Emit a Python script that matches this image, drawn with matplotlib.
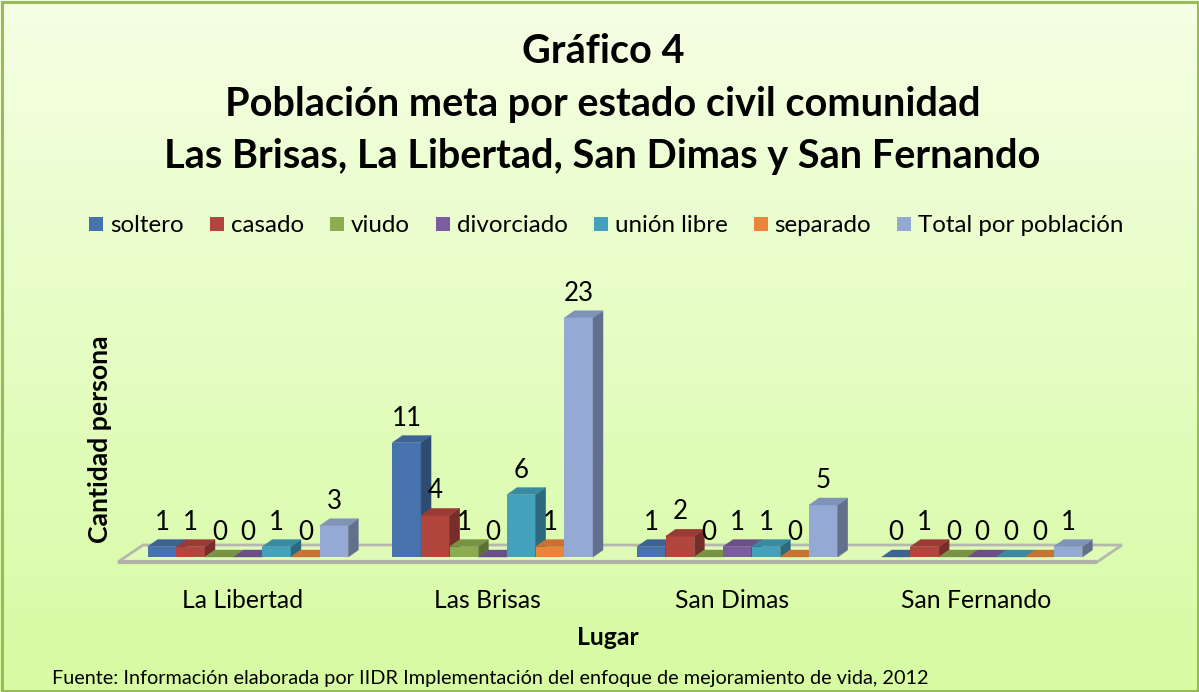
import numpy as np
import matplotlib
matplotlib.use("Agg")
import matplotlib.pyplot as plt
from matplotlib.patches import Polygon, Rectangle

# ---------------- data ----------------
categories = ["La Libertad", "Las Brisas", "San Dimas", "San Fernando"]
series_names = ["soltero", "casado", "viudo", "divorciado", "unión libre",
                "separado", "Total por población"]
soltero = [1, 11, 1, 0]
casado = [1, 4, 2, 1]
viudo = [0, 1, 0, 0]
divorciado = [0, 0, 1, 0]
union_libre = [1, 6, 1, 0]
separado = [0, 1, 0, 0]
total_poblacion = [3, 23, 5, 1]
series_values = [soltero, casado, viudo, divorciado, union_libre, separado,
                 total_poblacion]

title_lines = ["Gráfico 4", "Población meta por estado civil comunidad",
               "Las Brisas, La Libertad, San Dimas y San Fernando"]
ylabel = "Cantidad persona"
xlabel = "Lugar"
footer = ("Fuente: Información elaborada por IIDR Implementación del enfoque "
          "de mejoramiento de vida, 2012")

colors = ["#4673AC", "#B3453F", "#8DAB4F", "#7B5C9E", "#43A1BB", "#E9853A",
          "#94AAD5"]

FONT = "Lato"
plt.rcParams["font.family"] = [FONT, "DejaVu Sans"]

W, H = 1199, 692
fig = plt.figure(figsize=(W / 100, H / 100), dpi=100)
renderer = fig.canvas.get_renderer()

# ---------------- background ----------------
bg = fig.add_axes([0, 0, 1, 1])
bg.set_axis_off()
g = np.linspace(0, 1, 256)[:, None, None]
top_c = np.array([245, 255, 228]) / 255
bot_c = np.array([214, 251, 162]) / 255
img = top_c * (1 - g) + bot_c * g
bg.imshow(img, aspect="auto", extent=[0, 1, 0, 1], origin="upper")
bg.set_xlim(0, 1)
bg.set_ylim(0, 1)
bg.add_patch(Rectangle((1.5 / W, 1.5 / H), 1 - 3 / W, 1 - 3 / H, fill=False,
                       ec="#9bbb59", lw=2.2, transform=bg.transAxes))


def fx(px):
    return px / W


def fy(py):
    return 1 - py / H


# ---------------- main axes ----------------
C0, SX = 248.0, 244.7      # pixel of first category centre, px per category
BASE, SY = 557.0, 10.4     # pixel row of value 0, px per unit
ax = fig.add_axes([0, 0, 1, 1])
ax.patch.set_alpha(0)
ax.set_axis_off()
ax.set_xlim((0 - C0) / SX, (W - C0) / SX)
ax.set_ylim((BASE - H) / SY, BASE / SY)

DXp, DYp = 10.0, 7.0
ddx, ddy = DXp / SX, DYp / SY
bw = 28.66 / SX
nser = len(series_names)
offsets = (np.arange(nser) - (nser - 1) / 2) * bw
xc = np.arange(len(categories))


def shade(c, f):
    r, g_, b = matplotlib.colors.to_rgb(c)
    return (r * f, g_ * f, b * f)


# floor
xl = (130.5 - C0) / SX
xr = (1109.5 - C0) / SX
ym = 3.5 / SY
fdx, fdy = 12.5 / SX, 8.5 / SY
floor = [(xl - fdx, ym - fdy), (xr - fdx, ym - fdy), (xr + fdx, ym + fdy),
         (xl + fdx, ym + fdy)]
ax.add_patch(Polygon(floor, closed=True, facecolor=(1, 1, 1, 0.12),
                     edgecolor="#b5b8ae", lw=2.0, zorder=1))
ax.plot([floor[0][0], floor[1][0]], [floor[0][1], floor[1][1]],
        color="#b0b2aa", lw=3.0, zorder=1.1, solid_capstyle="butt")

labels = []
for j, (name, vals) in enumerate(zip(series_names, series_values)):
    z = 3 + j
    rects = ax.bar(xc + offsets[j], vals, bw, color=colors[j], lw=0,
                   zorder=z, label=name)
    for r, v in zip(rects, vals):
        x0, w, h = r.get_x(), r.get_width(), r.get_height()
        side = [(x0 + w, 0), (x0 + w + ddx, ddy), (x0 + w + ddx, h + ddy),
                (x0 + w, h)]
        top = [(x0, h), (x0 + w, h), (x0 + w + ddx, h + ddy), (x0 + ddx, h + ddy)]
        ax.add_patch(Polygon(side, closed=True, fc=shade(colors[j], 0.66),
                             ec=shade(colors[j], 0.66), lw=0.3, zorder=z))
        ax.add_patch(Polygon(top, closed=True, fc=shade(colors[j], 0.86),
                             ec=shade(colors[j], 0.86), lw=0.3, zorder=z))
        t = ax.annotate(f"{v}", (x0 + w / 2, h), xytext=(0, DYp + 10),
                        textcoords="offset pixels", ha="center", va="baseline",
                        fontsize=16, color="black", zorder=30)
        labels.append(t)


def fit(t, target, vertical=False):
    for _ in range(3):
        bb = t.get_window_extent(renderer)
        cur = bb.height if vertical else bb.width
        t.set_fontsize(t.get_fontsize() * target / cur)
    return t.get_fontsize()


# data-label size
tmp = fig.text(0, 0, "23", fontsize=16)
lab_fs = fit(tmp, 30)
tmp.remove()
for t in labels:
    t.set_fontsize(lab_fs)

# ---------------- titles ----------------
t3 = fig.text(fx(602), fy(168), title_lines[2], ha="center", va="baseline",
              fontsize=24, fontweight="bold")
tfs = fit(t3, 875)
fig.text(fx(603), fy(116), title_lines[1], ha="center", va="baseline",
         fontsize=tfs, fontweight="bold")
fig.text(fx(603), fy(63), title_lines[0], ha="center", va="baseline",
         fontsize=tfs, fontweight="bold")

# ---------------- legend ----------------
sq, gap1, gap2 = 14.0, 7.0, 26.0
left, right = 88.0, 1125.0
leg_texts = [fig.text(0, 0, s, fontsize=10) for s in series_names]
sumw = sum(t.get_window_extent(renderer).width for t in leg_texts)
avail = (right - left) - nser * (sq + gap1) - (nser - 1) * gap2
leg_fs = 10 * avail / sumw
for t in leg_texts:
    t.set_fontsize(leg_fs)
sumw = sum(t.get_window_extent(renderer).width for t in leg_texts)
x = left + ((right - left) - (sumw + nser * (sq + gap1) + (nser - 1) * gap2)) / 2
leg_base = 232.5
for j, t in enumerate(leg_texts):
    fig.patches.append(Rectangle((fx(x), fy(231)), sq / W, sq / H,
                                 transform=fig.transFigure, fc=colors[j],
                                 ec="none", figure=fig))
    x += sq + gap1
    t.set_position((fx(x), fy(leg_base)))
    t.set_va("baseline")
    x += t.get_window_extent(renderer).width + gap2

# ---------------- category labels ----------------
cat_texts = []
for i, c in enumerate(categories):
    t = ax.text(i - 5.5 / SX, fy(608), c, ha="center", va="baseline",
                fontsize=16, transform=ax.get_xaxis_transform())
    cat_texts.append(t)
cfs = fit(cat_texts[3], 150)
for t in cat_texts:
    t.set_fontsize(cfs)

# ---------------- axis titles ----------------
tl = fig.text(fx(577 + 30.5), fy(645), xlabel, ha="center", va="baseline",
              fontsize=16, fontweight="bold")
fit(tl, 62)
ty = fig.text(fx(100), fy(439), ylabel, ha="center", va="center",
              rotation=90, fontsize=16, fontweight="bold")
fit(ty, 208, vertical=True)

# ---------------- footer ----------------
tf = fig.text(fx(52), fy(684), footer, ha="left", va="baseline", fontsize=11)
fit(tf, 881)

fig.savefig("out.png", dpi=100)
